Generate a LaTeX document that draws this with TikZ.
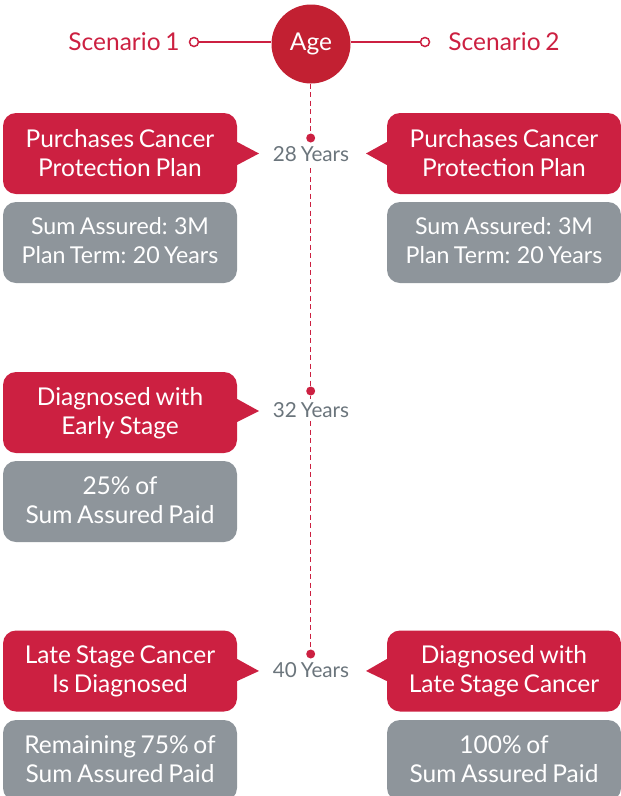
\documentclass[tikz,border=0pt]{standalone}
\usepackage{fontspec}
\setmainfont[WordSpace=0.75]{Lato}
\definecolor{cred}{HTML}{CC2041}
\definecolor{cdark}{HTML}{C22032}
\definecolor{cgray}{HTML}{8E959B}
\definecolor{ctext}{HTML}{6B757C}
\tikzset{
  x=1pt,y=-1pt,
  card/.style={rounded corners=13pt,minimum width=234pt,minimum height=81pt,inner sep=0pt},
  redcard/.style={card,fill=cred},
  graycard/.style={card,fill=cgray},
  cardtext/.style={inner sep=0pt,align=center,text=white,font=\fontsize{24.5}{29}\selectfont},
  redtext/.style={cardtext,yshift=-1.2pt},
  hightext/.style={cardtext,yshift=0.8pt},
  graytext/.style={cardtext,yshift=1.5pt},
  tighttext/.style={graytext,font=\fontsize{23.2}{29}\selectfont},
  yearlab/.style={text=ctext,font=\fontsize{20.7}{24}\selectfont,fill=white,inner xsep=2pt,inner ysep=3pt},
  timedot/.style={circle,fill=cred,minimum size=9pt,inner sep=0pt},
  ring/.style={circle,draw=cred,line width=1.5pt,fill=white,minimum size=9pt,inner sep=0pt},
  scen/.style={text=cred,font=\fontsize{24.5}{29}\selectfont},
  link/.style={cred,line width=1.7pt},
  dashline/.style={cred,line width=1.4pt,dash pattern=on 5pt off 3.5pt},
}
\begin{document}
\begin{tikzpicture}
\useasboundingbox (0,0) rectangle (621,796);
\clip (0,0) rectangle (621,796);
\node[circle,fill=cdark,minimum size=79pt,inner sep=0pt,text=white,font=\fontsize{24.5}{29}\selectfont] (age) at (311,44) {Age};
\node[ring] (r1) at (194,42) {};
\node[ring] (r2) at (425,42) {};
\node[scen] (s1) at (124,41.5) {Scenario 1};
\node[scen] (s2) at (504,41.5) {Scenario 2};
\draw[link] (r1) -- (age.west |- r1);
\draw[link] (r2) -- (age.east |- r2);
% timeline
\node[timedot] (d1) at (310.7,138) {};
\node[timedot] (d2) at (310.7,391) {};
\node[timedot] (d3) at (310.7,654) {};
\draw[dashline] (age.south -| d1) -- (d1);
\draw[dashline] (d1) -- (d2);
\draw[dashline] (d2) -- (d3);
\node[yearlab] (y1) at (311,154) {28 Years};
\node[yearlab] (y2) at (311,410) {32 Years};
\node[yearlab] (y3) at (311,670.5) {40 Years};
% left column
\node[redcard] (a1) at (120,153.5) {};
\node[hightext] (a1t) at (a1) {Purchases Cancer\\Protection Plan};
\node[graycard] (a2) at (120,242.5) {};
\node[tighttext] (a2t) at (a2) {Sum Assured: 3M\\Plan Term: 20 Years};
\node[redcard] (b1) at (120,412.5) {};
\node[redtext] (b1t) at (b1) {Diagnosed with\\Early Stage};
\node[graycard] (b2) at (120,501.5) {};
\node[graytext] (b2t) at (b2) {25\% of\\Sum Assured Paid};
\node[redcard] (c1) at (120,671) {};
\node[cardtext,yshift=-0.4pt] (c1t) at (c1) {Late Stage Cancer\\Is Diagnosed};
\node[graycard] (c2) at (120,760.5) {};
\node[graytext] (c2t) at (c2) {Remaining 75\% of\\Sum Assured Paid};
% right column
\node[redcard] (e1) at (504,153.5) {};
\node[hightext] (e1t) at (e1) {Purchases Cancer\\Protection Plan};
\node[graycard] (e2) at (504,242.5) {};
\node[tighttext] (e2t) at (e2) {Sum Assured: 3M\\Plan Term: 20 Years};
\node[redcard] (f1) at (504,671) {};
\node[cardtext,yshift=-0.4pt] (f1t) at (f1) {Diagnosed with\\Late Stage Cancer};
\node[graycard] (f2) at (504,760.5) {};
\node[graytext] (f2t) at (f2) {100\% of\\Sum Assured Paid};
% pointers
\fill[cred] (a1.east |- 0,142) -- (259,153.5) -- (a1.east |- 0,165) -- cycle;
\fill[cred] (b1.east |- 0,399) -- (259,411) -- (b1.east |- 0,422) -- cycle;
\fill[cred] (c1.east |- 0,659) -- (259,671) -- (c1.east |- 0,681) -- cycle;
\fill[cred] (e1.west |- 0,142) -- (366,153.5) -- (e1.west |- 0,165) -- cycle;
\fill[cred] (f1.west |- 0,659) -- (366,671) -- (f1.west |- 0,681) -- cycle;
\end{tikzpicture}
\end{document}
